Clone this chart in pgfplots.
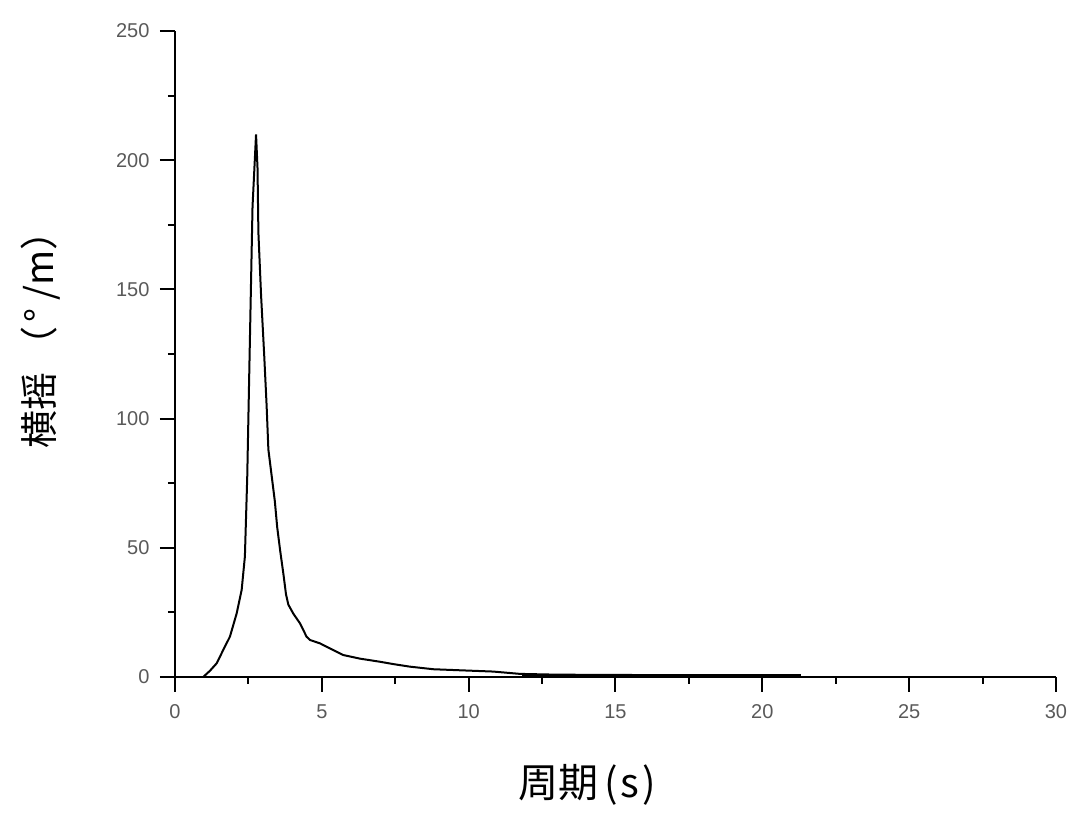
\documentclass[border=0pt]{standalone}
\usepackage{pgfplots}
\pgfplotsset{compat=1.18}
\usepackage{fontspec}
\setmainfont{Liberation Sans}
\newfontfamily\cjk{Noto Sans CJK SC}
\begin{document}
\begin{tikzpicture}
\begin{axis}[
  at={(0pt,0pt)}, anchor=south west,
  scale only axis, width=881pt, height=646pt,
  xmin=0, xmax=30, ymin=0, ymax=250,
  axis lines*=left,
  xtick={0,5,...,30}, ytick={0,50,...,250},
  minor x tick num=1, minor y tick num=1,
  tick align=outside,
  major tick length=15pt, minor tick length=7pt,
  every major tick/.append style={black, line width=2pt},
  every minor tick/.append style={black, line width=2pt},
  axis line style={black, line width=2.2pt},
  tick label style={font=\fontsize{20}{22}\selectfont, text=black!65},
  /pgf/number format/assume math mode=true,
  xticklabel style={yshift=-9pt},
  yticklabel style={xshift=-7pt},
  xlabel={\cjk 周期\hspace{6pt}(\hspace{3pt}s\hspace{3pt})},
  ylabel={\cjk 横摇\hspace{8pt}（\hspace{4pt}°\hspace{8pt}/m）},
  xlabel style={font=\fontsize{40}{44}\selectfont, at={(axis description cs:0.468,-0.167)}, anchor=center},
  ylabel style={font=\fontsize{38}{42}\selectfont, at={(axis description cs:-0.153,0.537)}, anchor=center, rotate=0},
  clip=false,
]
\addplot[black, line width=2pt, line join=miter] coordinates {
(0.96,0) (1.19,2.4) (1.42,5.3) (1.64,10.4) (1.87,15.6) (2.10,24.6) (2.27,33.7)
(2.38,46.6) (2.46,77.4) (2.55,130) (2.64,182) (2.76,210) (2.81,197) (2.84,172)
(2.93,148) (3.04,124) (3.12,105) (3.18,88) (3.29,78) (3.40,68) (3.48,58) (3.58,49)
(3.69,40) (3.78,32) (3.86,28) (4.03,24.5) (4.26,20.7) (4.48,15.6) (4.60,14.3)
(4.94,13) (5.39,10.4) (5.73,8.5) (6.30,7.1) (6.98,5.9) (7.43,5) (8.0,4) (8.8,3)
(9.7,2.6) (10.84,2.1) (11.75,1.2) (13,0.9) (15,0.8) (17,0.7) (19,0.6) (21.3,0.5)
};
\addplot[black, line width=3pt] coordinates {(11.8,0.6) (21.3,0.6)};
\end{axis}
\pgfresetboundingbox
\path[use as bounding box] (-175pt,-149pt) rectangle (905pt,677pt);
\end{tikzpicture}
\end{document}
